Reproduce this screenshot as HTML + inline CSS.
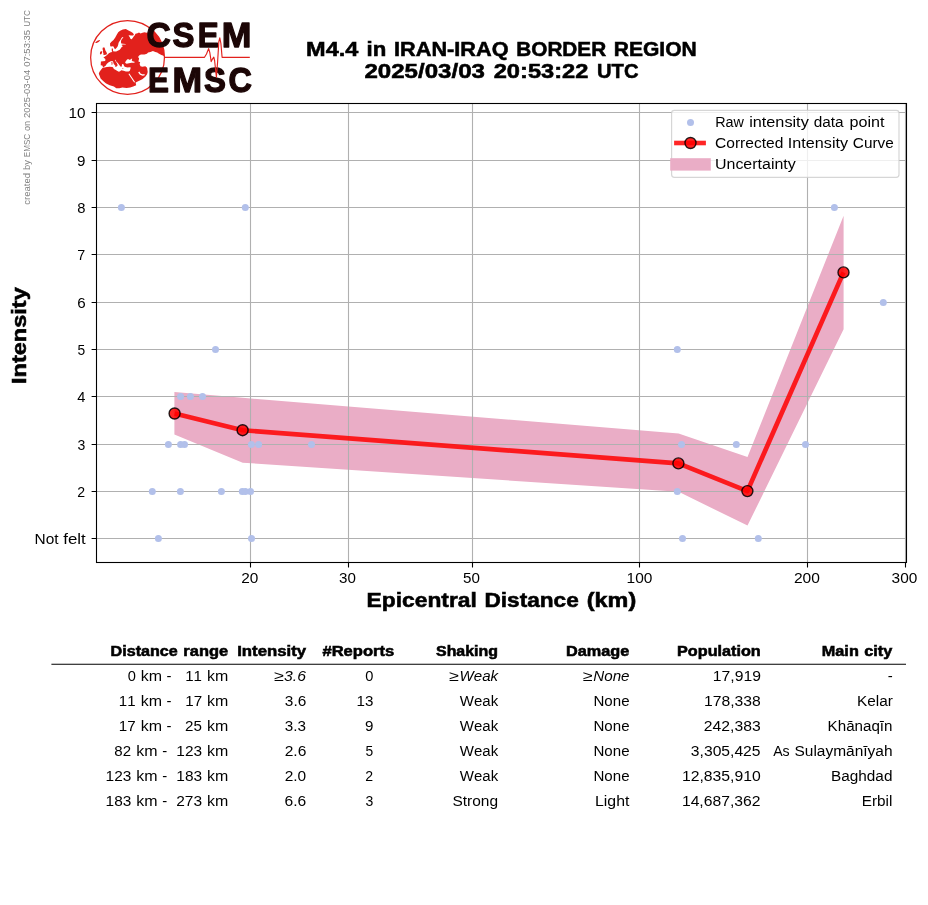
<!DOCTYPE html>
<html lang="en"><head><meta charset="utf-8"><title>M4.4 in IRAN-IRAQ BORDER REGION</title>
<style>
html,body{margin:0;padding:0;background:#fff;}
body{width:928px;height:905px;overflow:hidden;font-family:"Liberation Sans",sans-serif;}
svg{display:block;font-family:"Liberation Sans",sans-serif;font-kerning:none;will-change:transform;}
svg text{white-space:pre;}
</style></head><body>
<svg width="928" height="905" viewBox="0 0 928 905">
<rect x="0" y="0" width="928" height="905" fill="#fff"/>
<polygon points="174.4,392.0 242.7,397.8 678.6,433.6 747.5,457.1 843.6,215.7 843.6,329.2 747.5,525.6 678.6,491.8 242.7,462.7 174.4,434.6" fill="#eaadc6"/>
<path d="M250.5 103.5 V562.5 M348.5 103.5 V562.5 M472.5 103.5 V562.5 M639.5 103.5 V562.5 M807.5 103.5 V562.5 M905.5 103.5 V562.5 M96.5 538.5 H906.5 M96.5 491.5 H906.5 M96.5 444.5 H906.5 M96.5 396.5 H906.5 M96.5 349.5 H906.5 M96.5 302.5 H906.5 M96.5 254.5 H906.5 M96.5 207.5 H906.5 M96.5 160.5 H906.5 M96.5 112.5 H906.5" stroke="#b0b0b0" stroke-width="1.1" fill="none"/>
<g fill="#b2c0ea"><circle cx="121.4" cy="207.4" r="3.5"/><circle cx="245.3" cy="207.4" r="3.5"/><circle cx="834.4" cy="207.4" r="3.5"/><circle cx="883.3" cy="302.4" r="3.5"/><circle cx="215.5" cy="349.4" r="3.5"/><circle cx="677.3" cy="349.4" r="3.5"/><circle cx="180.6" cy="396.4" r="3.5"/><circle cx="190.4" cy="396.4" r="3.5"/><circle cx="202.5" cy="396.4" r="3.5"/><circle cx="168.4" cy="444.4" r="3.5"/><circle cx="180.6" cy="444.4" r="3.5"/><circle cx="184.5" cy="444.4" r="3.5"/><circle cx="251.4" cy="444.4" r="3.5"/><circle cx="258.6" cy="444.4" r="3.5"/><circle cx="311.5" cy="444.4" r="3.5"/><circle cx="681.5" cy="444.4" r="3.5"/><circle cx="736.3" cy="444.4" r="3.5"/><circle cx="805.5" cy="444.4" r="3.5"/><circle cx="152.3" cy="491.4" r="3.5"/><circle cx="180.4" cy="491.4" r="3.5"/><circle cx="221.4" cy="491.4" r="3.5"/><circle cx="242.3" cy="491.4" r="3.5"/><circle cx="245.4" cy="491.4" r="3.5"/><circle cx="250.5" cy="491.4" r="3.5"/><circle cx="677.3" cy="491.4" r="3.5"/><circle cx="158.4" cy="538.4" r="3.5"/><circle cx="251.5" cy="538.4" r="3.5"/><circle cx="682.5" cy="538.4" r="3.5"/><circle cx="758.3" cy="538.4" r="3.5"/></g>
<polyline points="174.6,413.5 242.6,430.2 678.4,463.4 747.4,491.1 843.5,272.4" fill="none" stroke="#f00" stroke-opacity="0.85" stroke-width="4.65" stroke-linejoin="round"/>
<g fill="#f00" fill-opacity="0.85" stroke="#000" stroke-opacity="0.85" stroke-width="1.4"><circle cx="174.6" cy="413.5" r="5.5"/><circle cx="242.6" cy="430.2" r="5.5"/><circle cx="678.4" cy="463.4" r="5.5"/><circle cx="747.4" cy="491.1" r="5.5"/><circle cx="843.5" cy="272.4" r="5.5"/></g>
<rect x="96.5" y="103.5" width="810.0" height="459.0" fill="none" stroke="#000" stroke-width="1.1"/>
<path d="M250.5 562.5 v4.9 M348.5 562.5 v4.9 M472.5 562.5 v4.9 M639.5 562.5 v4.9 M807.5 562.5 v4.9 M905.5 562.5 v4.9 M96.5 538.5 h-4.9 M96.5 491.5 h-4.9 M96.5 444.5 h-4.9 M96.5 396.5 h-4.9 M96.5 349.5 h-4.9 M96.5 302.5 h-4.9 M96.5 254.5 h-4.9 M96.5 207.5 h-4.9 M96.5 160.5 h-4.9 M96.5 112.5 h-4.9" stroke="#000" stroke-width="1.1" fill="none"/>
<text y="497.00" font-size="14.58"><tspan x="77.27" textLength="7.85" lengthAdjust="spacingAndGlyphs">2</tspan></text>
<text y="450.00" font-size="14.58"><tspan x="77.49" textLength="7.82" lengthAdjust="spacingAndGlyphs">3</tspan></text>
<text y="402.00" font-size="14.58"><tspan x="77.31" textLength="8.14" lengthAdjust="spacingAndGlyphs">4</tspan></text>
<text y="355.00" font-size="14.58"><tspan x="77.48" textLength="7.68" lengthAdjust="spacingAndGlyphs">5</tspan></text>
<text y="308.00" font-size="14.58"><tspan x="77.16" textLength="8.43" lengthAdjust="spacingAndGlyphs">6</tspan></text>
<text y="260.00" font-size="14.58"><tspan x="77.37" textLength="7.96" lengthAdjust="spacingAndGlyphs">7</tspan></text>
<text y="213.00" font-size="14.58"><tspan x="77.26" textLength="8.23" lengthAdjust="spacingAndGlyphs">8</tspan></text>
<text y="166.00" font-size="14.58"><tspan x="77.13" textLength="8.41" lengthAdjust="spacingAndGlyphs">9</tspan></text>
<text y="118.00" font-size="14.58"><tspan x="68.49" textLength="16.98" lengthAdjust="spacingAndGlyphs">10</tspan></text>
<text y="544.00" font-size="14.58"><tspan x="34.51" textLength="24.02" lengthAdjust="spacingAndGlyphs">Not</tspan> <tspan x="63.24" textLength="22.45" lengthAdjust="spacingAndGlyphs">felt</tspan></text>
<text y="583.00" font-size="14.58"><tspan x="241.31" textLength="17.11" lengthAdjust="spacingAndGlyphs">20</tspan></text>
<text y="583.00" font-size="14.58"><tspan x="339.14" textLength="16.86" lengthAdjust="spacingAndGlyphs">30</tspan></text>
<text y="583.00" font-size="14.58"><tspan x="463.13" textLength="16.88" lengthAdjust="spacingAndGlyphs">50</tspan></text>
<text y="583.00" font-size="14.58"><tspan x="626.59" textLength="25.85" lengthAdjust="spacingAndGlyphs">100</tspan></text>
<text y="583.00" font-size="14.58"><tspan x="793.98" textLength="25.96" lengthAdjust="spacingAndGlyphs">200</tspan></text>
<text y="583.00" font-size="14.58"><tspan x="891.62" textLength="25.72" lengthAdjust="spacingAndGlyphs">300</tspan></text>
<text y="607.00" font-size="20.42" font-weight="bold" stroke="#000" stroke-width="0.55"><tspan x="366.56" textLength="110.27" lengthAdjust="spacingAndGlyphs">Epicentral</tspan> <tspan x="484.43" textLength="94.37" lengthAdjust="spacingAndGlyphs">Distance</tspan> <tspan x="586.79" textLength="49.40" lengthAdjust="spacingAndGlyphs">(km)</tspan></text>
<text transform="translate(26.00 0) rotate(-90)" y="0" font-size="20.42" font-weight="bold" stroke="#000" stroke-width="0.55"><tspan x="-383.92" textLength="96.62" lengthAdjust="spacingAndGlyphs">Intensity</tspan></text>
<text y="56.00" font-size="20.42" font-weight="bold" stroke="#000" stroke-width="0.55"><tspan x="306.12" textLength="52.27" lengthAdjust="spacingAndGlyphs">M4.4</tspan> <tspan x="366.55" textLength="19.73" lengthAdjust="spacingAndGlyphs">in</tspan> <tspan x="394.08" textLength="114.43" lengthAdjust="spacingAndGlyphs">IRAN-IRAQ</tspan> <tspan x="516.30" textLength="89.81" lengthAdjust="spacingAndGlyphs">BORDER</tspan> <tspan x="613.77" textLength="82.96" lengthAdjust="spacingAndGlyphs">REGION</tspan></text>
<text y="78.00" font-size="20.42" font-weight="bold" stroke="#000" stroke-width="0.55"><tspan x="364.46" textLength="120.51" lengthAdjust="spacingAndGlyphs">2025/03/03</tspan> <tspan x="493.69" textLength="94.72" lengthAdjust="spacingAndGlyphs">20:53:22</tspan> <tspan x="597.04" textLength="41.51" lengthAdjust="spacingAndGlyphs">UTC</tspan></text>
<text transform="translate(30.00 0) rotate(-90)" y="0" font-size="8.75" fill="#808080"><tspan x="-204.70" textLength="31.73" lengthAdjust="spacingAndGlyphs">created</tspan> <tspan x="-170.03" textLength="9.83" lengthAdjust="spacingAndGlyphs">by</tspan> <tspan x="-157.16" textLength="23.26" lengthAdjust="spacingAndGlyphs">EMSC</tspan> <tspan x="-131.03" textLength="10.19" lengthAdjust="spacingAndGlyphs">on</tspan> <tspan x="-117.94" textLength="48.10" lengthAdjust="spacingAndGlyphs">2025-03-04</tspan> <tspan x="-66.82" textLength="36.92" lengthAdjust="spacingAndGlyphs">07:53:35</tspan> <tspan x="-26.82" textLength="16.77" lengthAdjust="spacingAndGlyphs">UTC</tspan></text>
<rect x="671.6" y="110.3" width="227.4" height="67.1" rx="2.8" fill="#fff" fill-opacity="0.8" stroke="#ccc" stroke-opacity="0.8" stroke-width="1.2"/>
<circle cx="690.5" cy="122.5" r="3.5" fill="#b2c0ea"/>
<path d="M674.1 143 H705.9" stroke="#f00" stroke-opacity="0.85" stroke-width="4.6"/>
<circle cx="690.5" cy="143" r="5.5" fill="#f00" fill-opacity="0.85" stroke="#000" stroke-opacity="0.85" stroke-width="1.4"/>
<rect x="670.2" y="158.2" width="40.6" height="12.4" fill="#eaadc6"/>
<text y="127.00" font-size="14.58"><tspan x="715.19" textLength="28.72" lengthAdjust="spacingAndGlyphs">Raw</tspan> <tspan x="749.16" textLength="59.61" lengthAdjust="spacingAndGlyphs">intensity</tspan> <tspan x="813.69" textLength="29.90" lengthAdjust="spacingAndGlyphs">data</tspan> <tspan x="849.49" textLength="34.99" lengthAdjust="spacingAndGlyphs">point</tspan></text>
<text y="148.00" font-size="14.58"><tspan x="714.99" textLength="68.36" lengthAdjust="spacingAndGlyphs">Corrected</tspan> <tspan x="787.89" textLength="60.20" lengthAdjust="spacingAndGlyphs">Intensity</tspan> <tspan x="852.89" textLength="40.92" lengthAdjust="spacingAndGlyphs">Curve</tspan></text>
<text y="169.00" font-size="14.58"><tspan x="714.97" textLength="80.79" lengthAdjust="spacingAndGlyphs">Uncertainty</tspan></text>
<path d="M51.4 664.3 H906" stroke="#000" stroke-width="1.1"/>
<text y="656.00" font-size="14.58" font-weight="bold" stroke="#000" stroke-width="0.55"><tspan x="110.56" textLength="67.24" lengthAdjust="spacingAndGlyphs">Distance</tspan> <tspan x="183.39" textLength="44.73" lengthAdjust="spacingAndGlyphs">range</tspan></text>
<text y="656.00" font-size="14.58" font-weight="bold" stroke="#000" stroke-width="0.55"><tspan x="237.21" textLength="68.86" lengthAdjust="spacingAndGlyphs">Intensity</tspan></text>
<text y="656.00" font-size="14.58" font-weight="bold" stroke="#000" stroke-width="0.55"><tspan x="322.44" textLength="71.80" lengthAdjust="spacingAndGlyphs">#Reports</tspan></text>
<text y="656.00" font-size="14.58" font-weight="bold" stroke="#000" stroke-width="0.55"><tspan x="436.02" textLength="61.90" lengthAdjust="spacingAndGlyphs">Shaking</tspan></text>
<text y="656.00" font-size="14.58" font-weight="bold" stroke="#000" stroke-width="0.55"><tspan x="565.96" textLength="63.25" lengthAdjust="spacingAndGlyphs">Damage</tspan></text>
<text y="656.00" font-size="14.58" font-weight="bold" stroke="#000" stroke-width="0.55"><tspan x="677.05" textLength="83.69" lengthAdjust="spacingAndGlyphs">Population</tspan></text>
<text y="656.00" font-size="14.58" font-weight="bold" stroke="#000" stroke-width="0.55"><tspan x="821.80" textLength="37.03" lengthAdjust="spacingAndGlyphs">Main</tspan> <tspan x="864.25" textLength="28.01" lengthAdjust="spacingAndGlyphs">city</tspan></text>
<text y="681.00" font-size="14.58"><tspan x="185.22" textLength="16.75" lengthAdjust="spacingAndGlyphs">11</tspan> <tspan x="207.11" textLength="21.26" lengthAdjust="spacingAndGlyphs">km</tspan></text>
<text y="681.00" font-size="14.58"><tspan x="127.69" textLength="8.14" lengthAdjust="spacingAndGlyphs">0</tspan> <tspan x="140.78" textLength="21.26" lengthAdjust="spacingAndGlyphs">km</tspan> <tspan x="166.60" textLength="4.99" lengthAdjust="spacingAndGlyphs">-</tspan></text>
<text y="681.00" font-size="14.58" font-style="italic"><tspan x="273.68" textLength="9.82" lengthAdjust="spacingAndGlyphs">≥</tspan><tspan x="284.07" textLength="21.81" lengthAdjust="spacingAndGlyphs">3.6</tspan></text>
<text y="681.00" font-size="14.58"><tspan x="365.31" textLength="8.14" lengthAdjust="spacingAndGlyphs">0</tspan></text>
<text y="681.00" font-size="14.58" font-style="italic"><tspan x="448.73" textLength="9.82" lengthAdjust="spacingAndGlyphs">≥</tspan><tspan x="459.50" textLength="38.62" lengthAdjust="spacingAndGlyphs">Weak</tspan></text>
<text y="681.00" font-size="14.58" font-style="italic"><tspan x="582.63" textLength="9.82" lengthAdjust="spacingAndGlyphs">≥</tspan><tspan x="593.27" textLength="36.27" lengthAdjust="spacingAndGlyphs">None</tspan></text>
<text y="681.00" font-size="14.58"><tspan x="712.83" textLength="48.04" lengthAdjust="spacingAndGlyphs">17,919</tspan></text>
<text y="681.00" font-size="14.58"><tspan x="887.70" textLength="4.99" lengthAdjust="spacingAndGlyphs">-</tspan></text>
<text y="706.00" font-size="14.58"><tspan x="185.21" textLength="16.88" lengthAdjust="spacingAndGlyphs">17</tspan> <tspan x="207.11" textLength="21.26" lengthAdjust="spacingAndGlyphs">km</tspan></text>
<text y="706.00" font-size="14.58"><tspan x="118.89" textLength="16.75" lengthAdjust="spacingAndGlyphs">11</tspan> <tspan x="140.78" textLength="21.26" lengthAdjust="spacingAndGlyphs">km</tspan> <tspan x="166.60" textLength="4.99" lengthAdjust="spacingAndGlyphs">-</tspan></text>
<text y="706.00" font-size="14.58"><tspan x="284.88" textLength="21.42" lengthAdjust="spacingAndGlyphs">3.6</tspan></text>
<text y="706.00" font-size="14.58"><tspan x="356.50" textLength="16.86" lengthAdjust="spacingAndGlyphs">13</tspan></text>
<text y="706.00" font-size="14.58"><tspan x="459.86" textLength="38.37" lengthAdjust="spacingAndGlyphs">Weak</tspan></text>
<text y="706.00" font-size="14.58"><tspan x="593.49" textLength="36.04" lengthAdjust="spacingAndGlyphs">None</tspan></text>
<text y="706.00" font-size="14.58"><tspan x="703.99" textLength="56.84" lengthAdjust="spacingAndGlyphs">178,338</tspan></text>
<text y="706.00" font-size="14.58"><tspan x="857.07" textLength="35.89" lengthAdjust="spacingAndGlyphs">Kelar</tspan></text>
<text y="731.00" font-size="14.58"><tspan x="185.10" textLength="16.84" lengthAdjust="spacingAndGlyphs">25</tspan> <tspan x="207.11" textLength="21.26" lengthAdjust="spacingAndGlyphs">km</tspan></text>
<text y="731.00" font-size="14.58"><tspan x="118.88" textLength="16.88" lengthAdjust="spacingAndGlyphs">17</tspan> <tspan x="140.78" textLength="21.26" lengthAdjust="spacingAndGlyphs">km</tspan> <tspan x="166.60" textLength="4.99" lengthAdjust="spacingAndGlyphs">-</tspan></text>
<text y="731.00" font-size="14.58"><tspan x="284.89" textLength="21.17" lengthAdjust="spacingAndGlyphs">3.3</tspan></text>
<text y="731.00" font-size="14.58"><tspan x="365.13" textLength="8.41" lengthAdjust="spacingAndGlyphs">9</tspan></text>
<text y="731.00" font-size="14.58"><tspan x="459.86" textLength="38.37" lengthAdjust="spacingAndGlyphs">Weak</tspan></text>
<text y="731.00" font-size="14.58"><tspan x="593.49" textLength="36.04" lengthAdjust="spacingAndGlyphs">None</tspan></text>
<text y="731.00" font-size="14.58"><tspan x="703.89" textLength="56.79" lengthAdjust="spacingAndGlyphs">242,383</tspan></text>
<text y="731.00" font-size="14.58"><tspan x="827.61" textLength="64.90" lengthAdjust="spacingAndGlyphs">Khānaqīn</tspan></text>
<text y="756.00" font-size="14.58"><tspan x="176.35" textLength="25.72" lengthAdjust="spacingAndGlyphs">123</tspan> <tspan x="207.11" textLength="21.26" lengthAdjust="spacingAndGlyphs">km</tspan></text>
<text y="756.00" font-size="14.58"><tspan x="114.37" textLength="16.75" lengthAdjust="spacingAndGlyphs">82</tspan> <tspan x="136.36" textLength="21.26" lengthAdjust="spacingAndGlyphs">km</tspan> <tspan x="162.17" textLength="4.99" lengthAdjust="spacingAndGlyphs">-</tspan></text>
<text y="756.00" font-size="14.58"><tspan x="284.65" textLength="21.66" lengthAdjust="spacingAndGlyphs">2.6</tspan></text>
<text y="756.00" font-size="14.58"><tspan x="365.48" textLength="7.68" lengthAdjust="spacingAndGlyphs">5</tspan></text>
<text y="756.00" font-size="14.58"><tspan x="459.86" textLength="38.37" lengthAdjust="spacingAndGlyphs">Weak</tspan></text>
<text y="756.00" font-size="14.58"><tspan x="593.49" textLength="36.04" lengthAdjust="spacingAndGlyphs">None</tspan></text>
<text y="756.00" font-size="14.58"><tspan x="690.88" textLength="69.67" lengthAdjust="spacingAndGlyphs">3,305,425</tspan></text>
<text y="756.00" font-size="14.58"><tspan x="773.19" textLength="16.49" lengthAdjust="spacingAndGlyphs">As</tspan> <tspan x="794.47" textLength="98.05" lengthAdjust="spacingAndGlyphs">Sulaymānīyah</tspan></text>
<text y="781.00" font-size="14.58"><tspan x="176.35" textLength="25.72" lengthAdjust="spacingAndGlyphs">183</tspan> <tspan x="207.11" textLength="21.26" lengthAdjust="spacingAndGlyphs">km</tspan></text>
<text y="781.00" font-size="14.58"><tspan x="105.60" textLength="25.72" lengthAdjust="spacingAndGlyphs">123</tspan> <tspan x="136.36" textLength="21.26" lengthAdjust="spacingAndGlyphs">km</tspan> <tspan x="162.17" textLength="4.99" lengthAdjust="spacingAndGlyphs">-</tspan></text>
<text y="781.00" font-size="14.58"><tspan x="284.65" textLength="21.53" lengthAdjust="spacingAndGlyphs">2.0</tspan></text>
<text y="781.00" font-size="14.58"><tspan x="365.27" textLength="7.85" lengthAdjust="spacingAndGlyphs">2</tspan></text>
<text y="781.00" font-size="14.58"><tspan x="459.86" textLength="38.37" lengthAdjust="spacingAndGlyphs">Weak</tspan></text>
<text y="781.00" font-size="14.58"><tspan x="593.49" textLength="36.04" lengthAdjust="spacingAndGlyphs">None</tspan></text>
<text y="781.00" font-size="14.58"><tspan x="681.90" textLength="78.89" lengthAdjust="spacingAndGlyphs">12,835,910</tspan></text>
<text y="781.00" font-size="14.58"><tspan x="831.00" textLength="61.42" lengthAdjust="spacingAndGlyphs">Baghdad</tspan></text>
<text y="806.00" font-size="14.58"><tspan x="176.24" textLength="25.84" lengthAdjust="spacingAndGlyphs">273</tspan> <tspan x="207.11" textLength="21.26" lengthAdjust="spacingAndGlyphs">km</tspan></text>
<text y="806.00" font-size="14.58"><tspan x="105.60" textLength="25.72" lengthAdjust="spacingAndGlyphs">183</tspan> <tspan x="136.36" textLength="21.26" lengthAdjust="spacingAndGlyphs">km</tspan> <tspan x="162.17" textLength="4.99" lengthAdjust="spacingAndGlyphs">-</tspan></text>
<text y="806.00" font-size="14.58"><tspan x="284.59" textLength="21.72" lengthAdjust="spacingAndGlyphs">6.6</tspan></text>
<text y="806.00" font-size="14.58"><tspan x="365.49" textLength="7.82" lengthAdjust="spacingAndGlyphs">3</tspan></text>
<text y="806.00" font-size="14.58"><tspan x="452.42" textLength="45.61" lengthAdjust="spacingAndGlyphs">Strong</tspan></text>
<text y="806.00" font-size="14.58"><tspan x="595.00" textLength="34.38" lengthAdjust="spacingAndGlyphs">Light</tspan></text>
<text y="806.00" font-size="14.58"><tspan x="681.91" textLength="78.59" lengthAdjust="spacingAndGlyphs">14,687,362</tspan></text>
<text y="806.00" font-size="14.58"><tspan x="861.79" textLength="30.63" lengthAdjust="spacingAndGlyphs">Erbil</tspan></text>
<g id="logo">
<path d="M110.2 46.2 L110.0 43.5 L111.2 42.0 L113.5 40.0 L115.1 37.7 L116.6 35.0 L118.2 32.3 L120.1 30.7 L122.8 29.6 L125.9 29.0 L127.1 29.7 L129.0 30.7 L131.0 31.7 L132.9 33.0 L133.9 34.4 L133.1 35.6 L131.4 35.4 L129.0 35.2 L128.6 35.6 L129.8 37.3 L130.6 38.9 L131.7 39.2 L132.9 37.7 L133.5 36.7 L134.6 35.5 L135.5 33.8 L137.5 33.2 L139.0 32.4 L140.5 33.6 L142.5 32.8 L144.5 32.3 L146.5 32.8 L148.0 32.4 L151.0 31.9 L153.9 31.5 A36.9 36.9 0 0 1 164.45 57.3 L163.8 56.1 L162.9 55.5 L161.4 54.9 L159.0 53.8 L157.2 52.6 L155.3 52.0 L152.9 51.1 L150.5 52.0 L148.1 52.6 L146.9 53.8 L144.5 54.5 L140.9 54.4 L139.1 55.6 L138.1 56.9 L139.1 58.6 L138.4 61.6 L140.2 62.3 L139.6 64.1 L140.5 66.2 L142.3 66.8 L145.3 66.2 L147.1 67.7 L147.7 71.9 L147.1 74.3 L145.3 76.7 L142.3 79.2 L138.7 81.0 L135.6 82.5 L136.2 85.2 L133.2 86.5 L130.2 87.6 L126.6 88.0 L122.4 87.4 L119.3 88.2 L116.3 88.2 L113.9 86.5 L109.7 85.2 L106.1 83.4 L103.1 81.0 L100.6 78.6 L99.7 76.1 L98.8 73.7 L99.4 71.9 L101.2 69.5 L103.1 67.2 L102.3 65.6 L100.7 65.2 L100.9 61.4 L105.2 61.0 L105.4 59.0 L103.4 57.5 L105.8 55.9 L107.3 54.8 L108.9 53.2 L110.8 52.2 L112.4 51.9 L111.8 51.3 L111.7 48.6 L112.9 48.4 L113.1 51.3 L114.7 51.5 L116.2 51.5 L118.2 50.5 L119.7 49.7 L120.9 48.2 L121.7 47.0 L122.8 46.6 L122.2 45.5 L121.3 45.1 L122.8 44.5 L125.7 44.5 L125.7 43.9 L123.2 43.7 L121.3 43.5 L120.9 42.0 L121.3 40.0 L122.4 38.5 L123.4 37.5 L122.8 37.1 L121.7 37.7 L120.7 39.6 L119.5 41.2 L118.6 42.7 L118.2 44.7 L117.6 46.6 L116.2 48.2 L115.1 49.3 L114.3 48.2 L113.5 46.6 L112.4 46.2 L111.4 46.6 Z" fill="#e2211c"/>
<polygon points="102.9,47.6 104.5,47.5 105.0,48.9 105.4,50.5 106.4,52.0 107.0,53.4 106.5,54.6 104.6,55.0 103.1,54.5 103.5,53.2 102.8,52.0 103.0,50.5 102.5,49.1" fill="#e2211c"/><polygon points="100.1,52.0 101.3,51.1 102.1,51.7 101.9,53.2 100.9,54.4 99.9,54.0" fill="#e2211c"/><polygon points="95.4,42.2 97.4,40.7 99.5,39.9 100.1,40.5 98.6,41.9 96.6,43.1 95.5,43.1" fill="#e2211c"/>
<polygon points="102.7,67.1 103.8,67.1 105.6,65.8 106.7,63.9 108.3,62.5 110.6,61.3 112.4,61.0 113.1,61.8 113.6,63.5 114.6,64.9 115.6,65.9 116.8,66.3 117.7,65.2 116.9,63.3 115.7,61.6 114.7,59.9 115.4,59.8 116.2,61.4 117.6,62.7 118.6,63.9 119.5,65.2 120.5,66.4 121.3,67.0 121.9,65.6 122.0,64.3 123.2,64.1 123.8,65.2 124.4,66.4 125.5,67.0 127.5,67.4 129.4,67.2 130.8,67.6 130.4,69.1 129.8,70.7 128.6,71.6 125.9,71.5 123.6,70.7 121.3,70.3 120.1,71.3 118.9,71.8 117.4,71.1 115.8,69.9 113.9,68.9 113.1,67.6 112.4,67.0 109.6,66.8 106.9,67.0 104.6,67.5 102.7,67.6" fill="#fff"/><polygon points="125.2,62.3 125.9,61.0 127.1,59.4 128.3,59.0 129.0,59.8 130.2,59.8 131.4,58.7 132.3,58.8 131.7,60.2 132.5,61.2 134.5,61.7 134.5,62.8 131.4,62.7 129.0,63.3 126.7,63.7 125.3,63.1" fill="#fff"/>
<polygon points="111.4,62.0 112.2,61.8 112.5,63.3 112.3,64.8 111.5,64.7 111.6,63.3" fill="#e2211c"/><polygon points="115.1,66.3 116.5,66.1 116.3,66.9 115.4,66.9" fill="#e2211c"/><polygon points="122.0,68.3 123.7,68.4 123.6,68.8 122.0,68.7" fill="#e2211c"/>
<path d="M128.9 73.7 L134.6 82.2" stroke="#fff" stroke-width="1.1" fill="none"/><path d="M138.7 72.0 L140.3 74.2 L142.8 75.2 L144.6 74.6" stroke="#fff" stroke-width="1.3" fill="none" stroke-linejoin="round"/>
<circle cx="127.55" cy="57.4" r="36.9" fill="none" stroke="#e2211c" stroke-width="1.25"/>
<text x="146.42" y="46.6" font-size="35.3" font-weight="bold" fill="#1c0606" stroke="#1c0606" stroke-width="1.3" stroke-linejoin="round" textLength="24.30" lengthAdjust="spacingAndGlyphs">C</text>
<text x="172.45" y="46.6" font-size="35.3" font-weight="bold" fill="#1c0606" stroke="#1c0606" stroke-width="1.3" stroke-linejoin="round" textLength="21.93" lengthAdjust="spacingAndGlyphs">S</text>
<text x="197.70" y="46.6" font-size="35.3" font-weight="bold" fill="#1c0606" stroke="#1c0606" stroke-width="1.3" stroke-linejoin="round" textLength="20.92" lengthAdjust="spacingAndGlyphs">E</text>
<text x="221.72" y="46.6" font-size="35.3" font-weight="bold" fill="#1c0606" stroke="#1c0606" stroke-width="1.3" stroke-linejoin="round" textLength="29.66" lengthAdjust="spacingAndGlyphs">M</text>
<text x="148.10" y="92.1" font-size="35.3" font-weight="bold" fill="#1c0606" stroke="#1c0606" stroke-width="1.3" stroke-linejoin="round" textLength="20.92" lengthAdjust="spacingAndGlyphs">E</text>
<text x="172.63" y="92.1" font-size="35.3" font-weight="bold" fill="#1c0606" stroke="#1c0606" stroke-width="1.3" stroke-linejoin="round" textLength="29.55" lengthAdjust="spacingAndGlyphs">M</text>
<text x="204.05" y="92.1" font-size="35.3" font-weight="bold" fill="#1c0606" stroke="#1c0606" stroke-width="1.3" stroke-linejoin="round" textLength="21.93" lengthAdjust="spacingAndGlyphs">S</text>
<text x="228.47" y="92.1" font-size="35.3" font-weight="bold" fill="#1c0606" stroke="#1c0606" stroke-width="1.3" stroke-linejoin="round" textLength="23.42" lengthAdjust="spacingAndGlyphs">C</text>
<path d="M164.4 57.3 L204.5 57.3 L206.5 54.0 L208.6 48.6 L209.8 52.5 L211.2 61.6 L212.6 58.8 L213.8 57.2 L214.6 60.5 L216.4 77.2 L217.6 62.0 L218.8 42.0 L219.8 37.8 L220.9 43.5 L222.1 57.3 L249.8 57.3" stroke="#e2211c" stroke-width="1.15" fill="none" stroke-linejoin="round"/>
</g>
</svg>
</body></html>
